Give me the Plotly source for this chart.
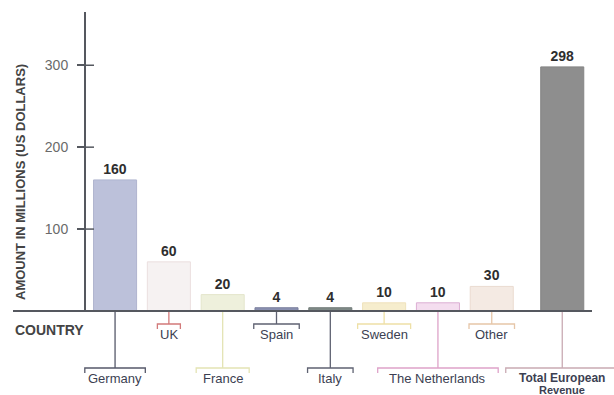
import plotly.graph_objects as go

# Revenue by country, millions of US dollars
countries = ["Germany", "UK", "France", "Spain", "Italy", "Sweden",
             "The Netherlands", "Other", "Total European Revenue"]
label_lines = [["Germany"], ["UK"], ["France"], ["Spain"], ["Italy"],
               ["Sweden"], ["The Netherlands"], ["Other"],
               ["Total European", "Revenue"]]
revenue = [160, 60, 20, 4, 4, 10, 10, 30, 298]
y_ticks = [100, 200, 300]

bar_colors = ["#bcc1da", "#f6f2f2", "#eef0dc", "#8a90b0", "#7f8a87",
              "#f6edcd", "#f4ddef", "#f4eae3", "#8e8e8e"]
bar_edges = ["#b0b5cf", "#ebdfdf", "#e4e6cc", "#7d829f", "#727c79",
             "#efe2bb", "#dcaed3", "#eadbd0", "#858585"]
lead_colors = ["#55586a", "#d27a7a", "#e4e4b4", "#5f6272", "#5f6272",
               "#eee0a6", "#dea3c9", "#e6c6a8", "#c9aab3"]
label_row = [2, 1, 2, 1, 2, 1, 2, 1, 2]

FONT = "Liberation Sans, Arial"
W, H = 614, 395
L, R, T, B = 86, 20, 12, 84
PW, PH = W - L - R, H - T - B
X0, X1 = -0.54, 8.90
Y0, Y1 = 0, 365
BAR_W = 0.8
# the total column sits a little apart from the country columns
shift = [0.0] * 8 + [0.31]


def px(xpix):
    return (xpix - L) / PW


def py(ypix):
    return (H - B - ypix) / PH


def data_to_paper_x(v):
    return (v - X0) / (X1 - X0)


fig = go.Figure(go.Bar(
    x=countries,
    y=revenue,
    width=BAR_W,
    offset=[s - BAR_W / 2 for s in shift],
    marker=dict(color=bar_colors, line=dict(color=bar_edges, width=1)),
    text=[str(v) for v in revenue],
    textposition="outside",
    textfont=dict(family=FONT, size=14, color="#2e2e2e", weight="bold"),
    cliponaxis=False,
    hoverinfo="x+y",
))

shapes = []
annotations = []

# baseline running under the COUNTRY caption
shapes.append(dict(type="line", xref="paper", yref="paper",
                   x0=px(13), x1=px(592), y0=0, y1=0,
                   line=dict(color="#55585f", width=2)))

# tick marks cross the value axis
for t in y_ticks:
    yp = (t - Y0) / (Y1 - Y0)
    shapes.append(dict(type="line", xref="paper", yref="paper",
                       x0=px(L - 7), x1=px(L + 8), y0=yp, y1=yp,
                       line=dict(color="#55585f", width=1.5)))

# bracketed category labels hanging under the bars
row_bracket = {1: 324, 2: 368}
for i, lines in enumerate(label_lines):
    cx = data_to_paper_x(i + shift[i])
    cxp = L + cx * PW
    col = lead_colors[i]
    yb = row_bracket[label_row[i]]
    half = (len(lines[0]) * 7.5 + 8) / 2
    shapes.append(dict(type="line", xref="paper", yref="paper",
                       x0=cx, x1=cx, y0=py(H - B + 1), y1=py(yb),
                       line=dict(color=col, width=1.3)))
    shapes.append(dict(type="path", xref="paper", yref="paper",
                       path=(f"M {px(cxp - half)},{py(yb + 5)} "
                             f"L {px(cxp - half)},{py(yb)} "
                             f"L {px(cxp + half)},{py(yb)} "
                             f"L {px(cxp + half)},{py(yb + 5)}"),
                       line=dict(color=col, width=1.3)))
    multi = len(lines) > 1
    for k, line in enumerate(lines):
        annotations.append(dict(
            text=line, xref="paper", yref="paper", x=cx,
            y=py(yb + 10 + k * 12), xanchor="center", yanchor="middle",
            showarrow=False,
            font=dict(family=FONT, size=(11 if k else 12) if multi else 13,
                      color="#3c3f52",
                      weight="bold" if multi else "normal")))

annotations.append(dict(
    text="COUNTRY", xref="paper", yref="paper", x=px(13), y=py(330),
    xanchor="left", yanchor="middle", showarrow=False,
    font=dict(family=FONT, size=14, color="#444444", weight="bold")))

annotations.append(dict(
    text="AMOUNT IN MILLIONS (US DOLLARS)", xref="paper", yref="paper",
    x=px(20), y=py(182), xanchor="center", yanchor="middle",
    textangle=-90, showarrow=False,
    font=dict(family=FONT, size=13, color="#444444", weight="bold")))

fig.update_layout(
    width=W, height=H,
    margin=dict(l=L, r=R, t=T, b=B),
    paper_bgcolor="white", plot_bgcolor="white",
    showlegend=False,
    bargap=0.2,
    shapes=shapes,
    annotations=annotations,
    xaxis=dict(range=[X0, X1], showticklabels=False, ticks="",
               showline=False, showgrid=False, zeroline=False,
               fixedrange=True),
    yaxis=dict(range=[Y0, Y1], tickvals=y_ticks, ticks="outside",
               ticklen=7, tickwidth=1.5, tickcolor="#55585f",
               showline=True, linecolor="#55585f", linewidth=2,
               showgrid=False, zeroline=False, ticklabelstandoff=6,
               tickfont=dict(family=FONT, size=14, color="#6a6a6a"),
               fixedrange=True),
)

fig.write_html("out.html")
